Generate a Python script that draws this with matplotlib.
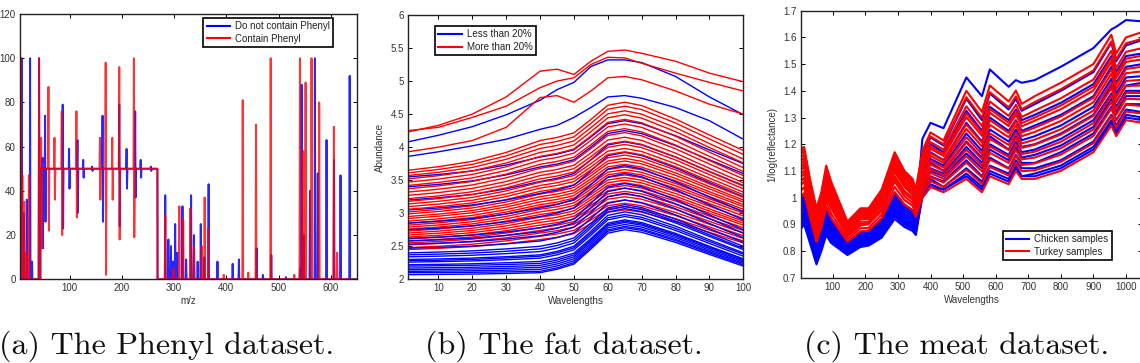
import matplotlib
matplotlib.use('Agg')
import matplotlib.pyplot as plt
from matplotlib.ticker import FuncFormatter
from matplotlib.lines import Line2D

# ---------------- (a) Phenyl dataset: peaks (m/z, height[, low]) ----------------
phenyl_xlim = (5, 650)
phenyl_step_up = 44.0
phenyl_step_down = 268.0
phenyl_plateau = 50
blue_low_peaks = [(6, 38), (8, 100), (12, 30), (18, 36), (24.3, 100), (28, 8), (41.5, 100)]
blue_mid_peaks = [(48, 55, 14), (53, 74, 26), (86.7, 79, 23), (99, 59, 41), (115, 63, 30),
                  (126, 54, 46), (143, 51, 49), (163, 74, 26), (195, 79, 24), (209, 59, 41),
                  (225.5, 76, 37), (236, 54, 46), (255.5, 51, 49)]
blue_high_peaks = [(283, 38), (289, 18), (294, 15), (298, 8), (302, 25), (306, 12), (316, 33),
                   (323, 9), (332.5, 38), (338, 20), (345, 8), (351, 25), (358, 10), (366, 43),
                   (383, 8), (412, 7), (424, 9), (458, 14), (470, 2), (486, 11), (514, 1),
                   (541, 5), (544, 88), (548, 20), (560, 40), (569.5, 100), (575, 48),
                   (591.7, 63), (606, 54), (618.5, 47), (636, 92)]
red_low_peaks = [(7, 100), (9.5, 47), (13, 35), (17, 12), (22, 47), (41.5, 100)]
red_mid_peaks = [(45.5, 64, 14), (59.5, 87, 22), (71, 64, 36), (85, 76, 20), (113, 76, 28),
                 (158, 64, 36), (169, 98, 2), (181.6, 64, 36), (195, 96, 18), (223, 100, 19)]
red_high_peaks = [(283, 29), (299, 5), (310, 33), (317.4, 27), (331, 32), (338, 15), (353, 15),
                  (358.4, 37), (365.4, 23), (395, 2), (431.3, 81), (442, 3), (456.7, 70),
                  (484.8, 100), (530, 2), (540.8, 100), (547, 58), (551.6, 89), (563, 100),
                  (577.7, 80), (605.8, 69), (612, 12)]

# ---------------- (b) fat dataset ----------------
fat_wavelengths = [1, 10, 20, 30, 40, 45, 50, 55, 60, 65, 70, 80, 90, 100]
fat_less_20 = [
    [2.07, 2.074, 2.079, 2.088, 2.10, 2.152, 2.23, 2.458, 2.698, 2.75, 2.712, 2.558, 2.376, 2.20],
    [2.10, 2.102, 2.106, 2.112, 2.12, 2.173, 2.252, 2.483, 2.727, 2.78, 2.741, 2.584, 2.399, 2.22],
    [2.12, 2.124, 2.129, 2.138, 2.15, 2.202, 2.28, 2.508, 2.748, 2.80, 2.761, 2.604, 2.419, 2.24],
    [2.145, 2.149, 2.156, 2.166, 2.18, 2.232, 2.31, 2.538, 2.778, 2.83, 2.79, 2.631, 2.442, 2.26],
    [2.17, 2.175, 2.182, 2.194, 2.21, 2.262, 2.34, 2.568, 2.808, 2.86, 2.819, 2.657, 2.466, 2.28],
    [2.20, 2.205, 2.212, 2.224, 2.24, 2.291, 2.368, 2.592, 2.829, 2.88, 2.839, 2.677, 2.486, 2.30],
    [2.22, 2.226, 2.235, 2.25, 2.27, 2.32, 2.396, 2.617, 2.85, 2.90, 2.859, 2.694, 2.499, 2.31],
    [2.26, 2.267, 2.278, 2.296, 2.32, 2.37, 2.446, 2.667, 2.90, 2.95, 2.908, 2.74, 2.542, 2.35],
    [2.28, 2.288, 2.301, 2.322, 2.35, 2.40, 2.476, 2.697, 2.93, 2.98, 2.938, 2.77, 2.572, 2.38],
    [2.30, 2.308, 2.321, 2.342, 2.37, 2.422, 2.50, 2.728, 2.968, 3.02, 2.977, 2.803, 2.598, 2.40],
    [2.34, 2.35, 2.364, 2.388, 2.42, 2.472, 2.55, 2.778, 3.018, 3.07, 3.027, 2.853, 2.648, 2.45],
    [2.37, 2.381, 2.397, 2.424, 2.46, 2.511, 2.588, 2.812, 3.049, 3.10, 3.056, 2.88, 2.672, 2.47],
    [2.40, 2.412, 2.43, 2.46, 2.50, 2.55, 2.626, 2.847, 3.08, 3.13, 3.086, 2.91, 2.702, 2.50],
    [2.47, 2.483, 2.503, 2.536, 2.58, 2.63, 2.704, 2.921, 3.15, 3.20, 3.155, 2.976, 2.765, 2.56],
    [2.53, 2.546, 2.569, 2.608, 2.66, 2.711, 2.788, 3.012, 3.249, 3.30, 3.253, 3.066, 2.844, 2.63],
    [2.58, 2.597, 2.622, 2.664, 2.72, 2.773, 2.852, 3.083, 3.327, 3.38, 3.332, 3.142, 2.918, 2.70],
    [2.62, 2.639, 2.668, 2.716, 2.78, 2.834, 2.914, 3.149, 3.396, 3.45, 3.401, 3.205, 2.974, 2.75],
    [2.75, 2.774, 2.81, 2.87, 2.95, 3.002, 3.08, 3.308, 3.548, 3.60, 3.551, 3.355, 3.124, 2.90],
    [2.85, 2.878, 2.919, 2.988, 3.08, 3.131, 3.208, 3.432, 3.669, 3.72, 3.671, 3.475, 3.244, 3.02],
    [3.05, 3.08, 3.125, 3.20, 3.30, 3.35, 3.424, 3.641, 3.87, 3.92, 3.873, 3.686, 3.464, 3.25],
    [3.20, 3.234, 3.284, 3.368, 3.48, 3.528, 3.60, 3.81, 4.032, 4.08, 4.034, 3.849, 3.631, 3.42],
    [3.40, 3.436, 3.49, 3.58, 3.70, 3.744, 3.81, 4.003, 4.206, 4.25, 4.205, 4.023, 3.808, 3.60],
    [3.55, 3.586, 3.64, 3.73, 3.85, 3.894, 3.96, 4.153, 4.356, 4.40, 4.355, 4.173, 3.958, 3.75],
    [3.86, 3.93, 4.02, 4.12, 4.27, 4.33, 4.45, 4.60, 4.76, 4.78, 4.74, 4.60, 4.40, 4.12],
    [4.08, 4.18, 4.31, 4.49, 4.71, 4.87, 4.98, 5.22, 5.32, 5.32, 5.28, 5.07, 4.76, 4.49],
]
fat_more_20 = [
    [2.45, 2.468, 2.495, 2.54, 2.60, 2.636, 2.69, 2.848, 3.014, 3.05, 3.015, 2.875, 2.71, 2.55],
    [2.48, 2.50, 2.531, 2.582, 2.65, 2.686, 2.74, 2.898, 3.064, 3.10, 3.064, 2.918, 2.746, 2.58],
    [2.52, 2.542, 2.574, 2.628, 2.70, 2.736, 2.79, 2.948, 3.114, 3.15, 3.113, 2.965, 2.79, 2.62],
    [2.55, 2.573, 2.607, 2.664, 2.74, 2.777, 2.832, 2.993, 3.163, 3.20, 3.162, 3.011, 2.833, 2.66],
    [2.58, 2.604, 2.64, 2.70, 2.78, 2.818, 2.874, 3.039, 3.212, 3.25, 3.212, 3.058, 2.876, 2.70],
    [2.61, 2.635, 2.673, 2.736, 2.82, 2.858, 2.914, 3.079, 3.252, 3.29, 3.252, 3.098, 2.916, 2.74],
    [2.64, 2.666, 2.706, 2.772, 2.86, 2.898, 2.954, 3.119, 3.292, 3.33, 3.292, 3.138, 2.956, 2.78],
    [2.67, 2.698, 2.739, 2.808, 2.90, 2.938, 2.996, 3.164, 3.342, 3.38, 3.341, 3.184, 2.999, 2.82],
    [2.70, 2.729, 2.772, 2.844, 2.94, 2.978, 3.036, 3.204, 3.382, 3.42, 3.38, 3.22, 3.032, 2.85],
    [2.73, 2.76, 2.805, 2.88, 2.98, 3.018, 3.076, 3.244, 3.422, 3.46, 3.419, 3.257, 3.066, 2.88],
    [2.76, 2.791, 2.838, 2.916, 3.02, 3.058, 3.116, 3.284, 3.462, 3.50, 3.459, 3.297, 3.106, 2.92],
    [2.79, 2.822, 2.871, 2.952, 3.06, 3.098, 3.156, 3.324, 3.502, 3.54, 3.499, 3.337, 3.146, 2.96],
    [2.82, 2.854, 2.904, 2.988, 3.10, 3.138, 3.196, 3.364, 3.542, 3.58, 3.539, 3.377, 3.186, 3.00],
    [2.85, 2.884, 2.934, 3.018, 3.13, 3.169, 3.228, 3.40, 3.581, 3.62, 3.579, 3.414, 3.219, 3.03],
    [2.88, 2.915, 2.967, 3.054, 3.17, 3.209, 3.268, 3.44, 3.621, 3.66, 3.618, 3.45, 3.252, 3.06],
    [2.92, 2.955, 3.007, 3.094, 3.21, 3.249, 3.308, 3.48, 3.661, 3.70, 3.658, 3.49, 3.292, 3.10],
    [2.95, 2.986, 3.04, 3.13, 3.25, 3.289, 3.348, 3.52, 3.701, 3.74, 3.697, 3.527, 3.325, 3.13],
    [2.99, 3.026, 3.08, 3.17, 3.29, 3.33, 3.39, 3.565, 3.75, 3.79, 3.747, 3.573, 3.368, 3.17],
    [3.02, 3.057, 3.113, 3.206, 3.33, 3.37, 3.43, 3.605, 3.79, 3.83, 3.786, 3.61, 3.402, 3.20],
    [3.06, 3.098, 3.156, 3.252, 3.38, 3.42, 3.48, 3.655, 3.84, 3.88, 3.835, 3.656, 3.445, 3.24],
    [3.10, 3.138, 3.196, 3.292, 3.42, 3.461, 3.522, 3.701, 3.889, 3.93, 3.885, 3.703, 3.488, 3.28],
    [3.14, 3.18, 3.239, 3.338, 3.47, 3.511, 3.572, 3.751, 3.939, 3.98, 3.934, 3.749, 3.531, 3.32],
    [3.18, 3.221, 3.282, 3.384, 3.52, 3.562, 3.624, 3.806, 3.998, 4.04, 3.993, 3.806, 3.584, 3.37],
    [3.22, 3.262, 3.325, 3.43, 3.57, 3.612, 3.674, 3.856, 4.048, 4.09, 4.042, 3.852, 3.628, 3.41],
    [3.27, 3.312, 3.375, 3.48, 3.62, 3.662, 3.726, 3.912, 4.108, 4.15, 4.102, 3.909, 3.681, 3.46],
    [3.32, 3.363, 3.428, 3.536, 3.68, 3.723, 3.788, 3.977, 4.177, 4.22, 4.171, 3.975, 3.744, 3.52],
    [3.37, 3.414, 3.481, 3.592, 3.74, 3.783, 3.848, 4.037, 4.237, 4.28, 4.23, 4.032, 3.797, 3.57],
    [3.42, 3.466, 3.534, 3.648, 3.80, 3.844, 3.91, 4.103, 4.306, 4.35, 4.30, 4.098, 3.86, 3.63],
    [3.47, 3.517, 3.587, 3.704, 3.86, 3.905, 3.972, 4.168, 4.375, 4.42, 4.369, 4.165, 3.924, 3.69],
    [3.52, 3.568, 3.64, 3.76, 3.92, 3.966, 4.034, 4.234, 4.444, 4.49, 4.439, 4.235, 3.994, 3.76],
    [3.57, 3.619, 3.693, 3.816, 3.98, 4.026, 4.094, 4.294, 4.504, 4.55, 4.499, 4.295, 4.054, 3.82],
    [3.61, 3.662, 3.739, 3.868, 4.04, 4.086, 4.156, 4.359, 4.574, 4.62, 4.569, 4.365, 4.124, 3.89],
    [3.65, 3.704, 3.785, 3.92, 4.10, 4.146, 4.216, 4.419, 4.634, 4.68, 4.629, 4.425, 4.184, 3.95],
    [3.93, 4.00, 4.10, 4.30, 4.75, 4.78, 4.68, 4.85, 5.05, 5.07, 5.02, 4.85, 4.65, 4.50],
    [4.23, 4.33, 4.50, 4.76, 5.15, 5.18, 5.10, 5.30, 5.45, 5.47, 5.42, 5.30, 5.12, 4.99],
    [4.25, 4.30, 4.45, 4.62, 4.90, 5.00, 5.05, 5.25, 5.36, 5.35, 5.27, 5.12, 4.98, 4.85],
]

# ---------------- (c) meat dataset ----------------
meat_wavelengths = [1, 12, 30, 50, 65, 80, 95, 145, 185, 210, 250, 290, 320, 345, 355,
                    375, 400, 440, 510, 558, 582, 640, 662, 680, 720, 800, 900, 955, 970, 1000, 1050]
meat_chicken = [
    [0.88, 0.90, 0.83, 0.75, 0.80, 0.86, 0.83, 0.785, 0.815, 0.82, 0.85, 0.92, 0.89, 0.875, 0.86,
     1.01, 1.05, 1.03, 1.09, 1.04, 1.10, 1.07, 1.12, 1.08, 1.09, 1.12, 1.19, 1.29, 1.25, 1.31, 1.30],
    [0.892, 0.912, 0.84, 0.758, 0.809, 0.87, 0.839, 0.79, 0.821, 0.826, 0.857, 0.93, 0.898, 0.883, 0.867,
     1.04, 1.08, 1.06, 1.14, 1.08, 1.15, 1.11, 1.16, 1.13, 1.13, 1.17, 1.24, 1.34, 1.29, 1.35, 1.35],
    [0.901, 0.92, 0.847, 0.765, 0.815, 0.878, 0.846, 0.794, 0.825, 0.83, 0.863, 0.938, 0.905, 0.889, 0.872,
     1.00, 1.04, 1.03, 1.08, 1.03, 1.09, 1.06, 1.11, 1.08, 1.08, 1.11, 1.18, 1.28, 1.24, 1.30, 1.29],
    [0.91, 0.93, 0.854, 0.771, 0.822, 0.886, 0.853, 0.798, 0.83, 0.834, 0.868, 0.945, 0.911, 0.895, 0.877,
     1.06, 1.11, 1.09, 1.19, 1.13, 1.20, 1.16, 1.21, 1.17, 1.18, 1.22, 1.29, 1.39, 1.34, 1.40, 1.40],
    [0.919, 0.938, 0.861, 0.777, 0.829, 0.894, 0.86, 0.801, 0.834, 0.838, 0.873, 0.953, 0.917, 0.90, 0.882,
     1.02, 1.07, 1.04, 1.11, 1.06, 1.12, 1.09, 1.14, 1.11, 1.11, 1.14, 1.21, 1.31, 1.27, 1.33, 1.32],
    [0.928, 0.946, 0.868, 0.784, 0.835, 0.902, 0.867, 0.805, 0.838, 0.842, 0.879, 0.96, 0.924, 0.906, 0.887,
     1.09, 1.145, 1.12, 1.24, 1.175, 1.255, 1.21, 1.255, 1.215, 1.23, 1.27, 1.34, 1.445, 1.39, 1.45, 1.455],
    [0.94, 0.958, 0.878, 0.792, 0.844, 0.912, 0.876, 0.81, 0.844, 0.848, 0.886, 0.97, 0.932, 0.914, 0.894,
     1.05, 1.10, 1.08, 1.165, 1.11, 1.18, 1.14, 1.19, 1.15, 1.16, 1.195, 1.265, 1.37, 1.32, 1.38, 1.38],
    [0.952, 0.97, 0.888, 0.80, 0.853, 0.922, 0.885, 0.815, 0.85, 0.854, 0.893, 0.98, 0.94, 0.922, 0.901,
     1.11, 1.17, 1.14, 1.28, 1.21, 1.30, 1.25, 1.29, 1.25, 1.27, 1.31, 1.38, 1.49, 1.43, 1.49, 1.50],
    [0.964, 0.981, 0.897, 0.809, 0.862, 0.933, 0.894, 0.82, 0.856, 0.859, 0.90, 0.99, 0.949, 0.93, 0.908,
     1.08, 1.13, 1.10, 1.21, 1.15, 1.23, 1.18, 1.23, 1.19, 1.20, 1.24, 1.31, 1.42, 1.36, 1.42, 1.43],
    [0.976, 0.993, 0.907, 0.817, 0.87, 0.943, 0.904, 0.825, 0.861, 0.865, 0.908, 1.00, 0.957, 0.937, 0.914,
     1.135, 1.20, 1.17, 1.325, 1.25, 1.34, 1.29, 1.33, 1.29, 1.31, 1.355, 1.425, 1.53, 1.47, 1.53, 1.54],
    [0.988, 1.004, 0.916, 0.826, 0.879, 0.954, 0.913, 0.83, 0.867, 0.87, 0.915, 1.01, 0.966, 0.945, 0.921,
     1.16, 1.225, 1.195, 1.37, 1.29, 1.39, 1.33, 1.37, 1.325, 1.35, 1.40, 1.47, 1.58, 1.51, 1.57, 1.59],
    [1.00, 1.016, 0.926, 0.834, 0.888, 0.964, 0.922, 0.835, 0.873, 0.876, 0.922, 1.02, 0.974, 0.953, 0.928,
     1.22, 1.28, 1.26, 1.45, 1.38, 1.48, 1.415, 1.44, 1.43, 1.44, 1.49, 1.56, 1.63, 1.64, 1.665, 1.66],
]
meat_turkey = [
    [1.00, 1.016, 0.926, 0.834, 0.888, 0.964, 0.922, 0.835, 0.873, 0.876, 0.922, 1.02, 0.974, 0.953, 0.928,
     1.00, 1.04, 1.02, 1.07, 1.02, 1.08, 1.05, 1.10, 1.07, 1.07, 1.10, 1.17, 1.27, 1.23, 1.29, 1.28],
    [1.024, 1.039, 0.945, 0.851, 0.906, 0.985, 0.94, 0.845, 0.885, 0.887, 0.936, 1.04, 0.991, 0.969, 0.942,
     1.018, 1.061, 1.04, 1.104, 1.051, 1.115, 1.082, 1.131, 1.099, 1.102, 1.134, 1.204, 1.305, 1.262, 1.322, 1.315],
    [1.045, 1.06, 0.96, 0.865, 0.92, 1.00, 0.96, 0.855, 0.895, 0.90, 0.95, 1.06, 1.005, 0.98, 0.955,
     1.032, 1.078, 1.056, 1.131, 1.076, 1.143, 1.108, 1.156, 1.122, 1.128, 1.161, 1.231, 1.333, 1.288, 1.348, 1.343],
    [1.06, 1.074, 0.974, 0.876, 0.932, 1.016, 0.968, 0.86, 0.902, 0.904, 0.958, 1.07, 1.016, 0.992, 0.962,
     1.045, 1.093, 1.07, 1.155, 1.098, 1.168, 1.13, 1.178, 1.143, 1.15, 1.185, 1.255, 1.358, 1.31, 1.37, 1.368],
    [1.075, 1.09, 0.985, 0.885, 0.945, 1.03, 0.98, 0.865, 0.91, 0.91, 0.97, 1.08, 1.025, 1.00, 0.97,
     1.058, 1.107, 1.084, 1.179, 1.119, 1.192, 1.152, 1.199, 1.163, 1.172, 1.209, 1.279, 1.382, 1.332, 1.392, 1.392],
    [1.09, 1.10, 1.00, 0.90, 0.95, 1.04, 0.99, 0.87, 0.92, 0.92, 0.98, 1.095, 1.04, 1.01, 0.98,
     1.072, 1.124, 1.10, 1.206, 1.144, 1.22, 1.178, 1.224, 1.186, 1.198, 1.236, 1.306, 1.41, 1.358, 1.418, 1.42],
    [1.102, 1.115, 1.008, 0.905, 0.963, 1.052, 1.00, 0.878, 0.922, 0.924, 0.983, 1.105, 1.045, 1.019, 0.986,
     1.083, 1.137, 1.112, 1.226, 1.163, 1.241, 1.197, 1.243, 1.203, 1.217, 1.256, 1.326, 1.431, 1.377, 1.437, 1.441],
    [1.114, 1.126, 1.017, 0.914, 0.972, 1.063, 1.009, 0.883, 0.928, 0.929, 0.99, 1.115, 1.054, 1.027, 0.993,
     1.099, 1.156, 1.13, 1.257, 1.191, 1.273, 1.226, 1.271, 1.23, 1.246, 1.287, 1.357, 1.463, 1.406, 1.466, 1.473],
    [1.126, 1.138, 1.027, 0.922, 0.98, 1.073, 1.019, 0.888, 0.934, 0.935, 0.998, 1.125, 1.062, 1.035, 0.999,
     1.108, 1.166, 1.14, 1.274, 1.206, 1.29, 1.242, 1.286, 1.244, 1.262, 1.304, 1.374, 1.48, 1.422, 1.482, 1.49],
    [1.138, 1.149, 1.036, 0.931, 0.989, 1.084, 1.028, 0.893, 0.94, 0.94, 1.005, 1.135, 1.071, 1.043, 1.006,
     1.122, 1.183, 1.156, 1.301, 1.231, 1.318, 1.268, 1.311, 1.267, 1.288, 1.331, 1.401, 1.508, 1.448, 1.508, 1.518],
    [1.15, 1.161, 1.046, 0.939, 0.998, 1.094, 1.037, 0.898, 0.946, 0.946, 1.012, 1.145, 1.079, 1.051, 1.013,
     1.13, 1.191, 1.164, 1.315, 1.243, 1.332, 1.28, 1.323, 1.279, 1.30, 1.345, 1.415, 1.522, 1.46, 1.52, 1.532],
    [1.162, 1.173, 1.056, 0.947, 1.007, 1.104, 1.046, 0.903, 0.951, 0.952, 1.019, 1.155, 1.087, 1.058, 1.02,
     1.144, 1.208, 1.18, 1.342, 1.268, 1.36, 1.306, 1.348, 1.302, 1.326, 1.372, 1.442, 1.55, 1.486, 1.546, 1.56],
    [1.171, 1.181, 1.063, 0.954, 1.013, 1.112, 1.053, 0.906, 0.956, 0.956, 1.025, 1.163, 1.094, 1.064, 1.025,
     1.162, 1.229, 1.20, 1.376, 1.299, 1.395, 1.338, 1.379, 1.331, 1.358, 1.406, 1.476, 1.585, 1.518, 1.578, 1.595],
    [1.18, 1.19, 1.07, 0.96, 1.02, 1.12, 1.06, 0.91, 0.96, 0.96, 1.03, 1.17, 1.10, 1.07, 1.03,
     1.175, 1.244, 1.214, 1.40, 1.321, 1.42, 1.36, 1.401, 1.351, 1.38, 1.43, 1.50, 1.61, 1.54, 1.60, 1.62],
]

captions = ["(a) The Phenyl dataset.", "(b) The fat dataset.", "(c) The meat dataset."]
BLUE = '#0000FF'
RED = '#FF0000'

plt.rcParams['font.family'] = ['Liberation Sans', 'DejaVu Sans']


def spike_line(low, mid, high):
    w = 0.8
    xs, ys = [phenyl_xlim[0]], [0]
    for p, h in low:
        xs += [p - w, p, p + w]
        ys += [0, h, 0]
    xs += [phenyl_step_up, phenyl_step_up + 0.3]
    ys += [0, phenyl_plateau]
    for p, h, l in mid:
        xs += [p - w, p, p + w, p + 2 * w]
        ys += [phenyl_plateau, h, l, phenyl_plateau]
    xs += [phenyl_step_down, phenyl_step_down + 0.3]
    ys += [phenyl_plateau, 0]
    for p, h in high:
        xs += [p - w, p, p + w]
        ys += [0, h, 0]
    xs += [phenyl_xlim[1]]
    ys += [0]
    return xs, ys


def style(ax):
    ax.tick_params(direction='in', top=True, right=True, length=3, width=0.7,
                   labelsize=7, labelcolor='#333333', pad=3)
    for s in ax.spines.values():
        s.set_linewidth(1.0)
        s.set_color('#222222')


def legend(ax, labels, loc, anchor):
    handles = [Line2D([], [], color=BLUE, lw=1.5), Line2D([], [], color=RED, lw=1.5)]
    lg = ax.legend(handles, labels, loc=loc, bbox_to_anchor=anchor, borderaxespad=0,
                   fancybox=False, edgecolor='black', framealpha=1, fontsize=7,
                   handlelength=2.4, borderpad=0.35, labelspacing=0.25, handletextpad=0.5)
    lg.get_frame().set_linewidth(1.2)
    for t in lg.get_texts():
        t.set_color('#222222')


def interleave(ax, x, blues, reds, lw):
    n = max(len(blues), len(reds))
    for i in range(n):
        if i < len(blues):
            ax.plot(x, blues[i], color=BLUE, lw=lw)
        if i < len(reds):
            ax.plot(x, reds[i], color=RED, lw=lw)


fig = plt.figure(figsize=(11.4, 3.63), dpi=100)
axA = fig.add_axes([0.01754, 0.2306, 0.2956, 0.7309])
axB = fig.add_axes([0.3579, 0.2306, 0.2941, 0.7281])
axC = fig.add_axes([0.7022, 0.2350, 0.2998, 0.7355])

# (a)
bx, by = spike_line(blue_low_peaks, blue_mid_peaks, blue_high_peaks)
rx, ry = spike_line(red_low_peaks, red_mid_peaks, red_high_peaks)
axA.plot(bx, by, color=BLUE, lw=1.4, alpha=0.85)
axA.plot(rx, ry, color=RED, lw=1.4, alpha=0.8)
axA.set_xlim(*phenyl_xlim)
axA.set_ylim(0, 120)
axA.set_xticks([100, 200, 300, 400, 500, 600])
axA.set_yticks([0, 20, 40, 60, 80, 100, 120])
axA.set_xlabel('m/z', fontsize=7, labelpad=2, color='#333333')
style(axA)
legend(axA, ['Do not contain Phenyl', 'Contain Phenyl'], 'upper right', (0.929, 0.985))

# (b)
interleave(axB, fat_wavelengths, fat_less_20, fat_more_20, 1.0)
axB.set_xlim(1, 100)
axB.set_ylim(2, 6)
axB.set_xticks(range(10, 101, 10))
axB.set_yticks([2, 2.5, 3, 3.5, 4, 4.5, 5, 5.5, 6])
axB.yaxis.set_major_formatter(FuncFormatter(lambda v, p: f'{round(v, 2):g}'))
axB.set_xlabel('Wavelengths', fontsize=7, labelpad=2, color='#333333')
axB.set_ylabel('Abundance', fontsize=7, labelpad=4, color='#333333')
style(axB)
legend(axB, ['Less than 20%', 'More than 20%'], 'upper left', (0.0805, 0.958))

# (c): chicken spectra first, turkey spectra drawn over them
for curve in meat_chicken:
    axC.plot(meat_wavelengths, curve, color=BLUE, lw=1.5)
for curve in meat_turkey:
    axC.plot(meat_wavelengths, curve, color=RED, lw=1.5)
axC.set_xlim(1, 1050)
axC.set_ylim(0.7, 1.7)
axC.set_xticks(range(100, 1001, 100))
axC.set_yticks([0.7, 0.8, 0.9, 1.0, 1.1, 1.2, 1.3, 1.4, 1.5, 1.6, 1.7])
axC.yaxis.set_major_formatter(FuncFormatter(lambda v, p: f'{round(v, 2):g}'))
axC.set_xlabel('Wavelengths', fontsize=7, labelpad=2, color='#333333')
axC.set_ylabel('1/log(reflectance)', fontsize=7, labelpad=4, color='#333333')
style(axC)
legend(axC, ['Chicken samples', 'Turkey samples'], 'lower right', (0.911, 0.066))

# captions
for cx, txt in zip([167 / 1140, 564 / 1140, 957 / 1140], captions):
    fig.text(cx, 9 / 363, txt, ha='center', va='baseline', fontsize=23, family='cmr10',
             color='#111111')

fig.savefig('out.png', dpi=100)
